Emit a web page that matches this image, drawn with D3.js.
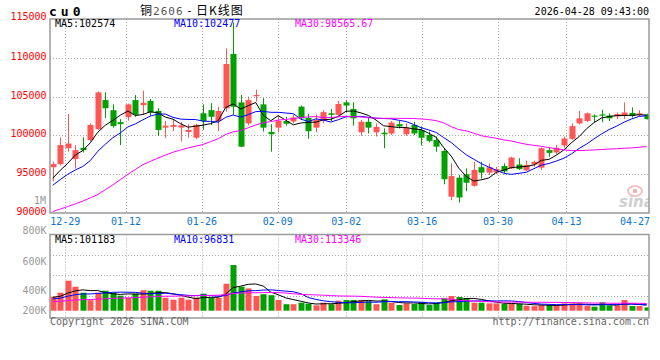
<!DOCTYPE html>
<html><head><meta charset="utf-8">
<script src="https://cdn.jsdelivr.net/npm/d3@7"></script>
<style>
html,body{margin:0;padding:0;background:#fff;}
svg{display:block;}
</style></head><body>
<svg id="chart" width="660" height="360"></svg>
<script>
// ---------- data ----------
const dates = ["12-25","12-26","12-29","12-30","12-31","01-05","01-06","01-07","01-08","01-09",
 "01-12","01-13","01-14","01-15","01-16","01-19","01-20","01-21","01-22","01-23",
 "01-26","01-27","01-28","01-29","01-30","02-02","02-03","02-04","02-05","02-06",
 "02-09","02-10","02-11","02-12","02-13","02-24","02-25","02-26","02-27","03-02",
 "03-03","03-04","03-05","03-06","03-09","03-10","03-11","03-12","03-13","03-16",
 "03-17","03-18","03-19","03-20","03-23","03-24","03-25","03-26","03-27","03-30",
 "03-31","04-01","04-02","04-03","04-07","04-08","04-09","04-10","04-13","04-14",
 "04-15","04-16","04-17","04-20","04-21","04-22","04-23","04-24","04-27","04-28"];
const open = [95900,96300,98350,96950,98400,99400,100800,104550,103250,101700,
 102350,104550,103900,104450,103150,101000,101100,101000,100450,99700,
 102850,103250,101850,103500,110500,104250,101550,105050,104000,100450,
 101000,101850,101800,103700,102250,101000,101850,102850,102650,104250,
 103400,100400,101750,100400,100350,100250,101450,100150,101350,100700,
 100050,99400,98000,92100,94550,95000,93500,95900,95200,95250,
 96050,95750,96250,95500,96250,95850,98100,97800,98700,99550,
 101550,101850,102550,102700,102550,102450,102500,102900,102650,102650];
const high = [96600,99750,102750,98750,99750,101550,105650,105550,104000,102100,
 104100,105200,105750,104700,103500,101850,102000,101750,101450,101500,
 104000,104150,103700,111200,114550,105200,105000,105900,104800,101450,
 102650,102400,102700,103850,102800,102700,103250,103400,104450,104550,
 104250,102000,102400,101550,100900,101850,101850,101550,101750,101150,
 100500,99850,98400,96400,94900,95750,96600,96600,96400,95950,
 96400,97250,97050,96750,96750,98450,98450,98750,99850,101550,
 103150,102950,102700,103300,102850,102950,104250,103600,103250,102800];
const low = [94100,96100,97900,95750,97800,99250,100700,102250,101000,98750,
 101900,102400,102650,102500,99950,99650,100550,99200,99700,99550,
 100700,101350,100550,103050,102650,98500,101300,104350,100500,97900,
 100400,101250,101550,102000,99550,100400,101550,101850,102500,103000,
 101250,99950,100250,99850,98350,100050,100900,99950,100050,98700,
 99100,97900,93700,91650,91350,92800,93400,94450,94900,95000,
 95000,95650,95550,95400,95950,95550,97250,97550,98400,99400,
 101400,101750,101700,101700,101850,102100,102100,102300,102500,102050];
const close = [96300,98750,98950,98100,98100,101350,105550,103500,101200,101450,
 104000,102650,104200,102950,100700,101250,101350,101300,100700,101350,
 101850,102400,103150,109200,103700,98550,104550,105200,101000,100150,
 101850,101500,102300,102200,100550,102000,103000,102650,104050,103850,
 102200,101750,101000,101100,100150,101650,101150,101000,100250,99700,
 99300,98550,94350,94750,92000,93900,95550,95200,95900,95650,
 95350,97150,95650,96200,96600,98350,97750,98400,99600,101200,
 102200,102850,102400,102550,102200,102750,102950,102500,102850,102100];
const volume = [224000,288000,480000,384000,288000,168000,288000,320000,288000,240000,
 208000,272000,328000,320000,320000,208000,176000,208000,176000,208000,
 272000,208000,208000,432000,731000,384000,357000,235000,264000,248000,
 171000,104000,104000,128000,112000,85000,128000,104000,160000,171000,
 171000,171000,152000,104000,181000,128000,91000,117000,107000,136000,
 91000,128000,200000,235000,219000,197000,128000,128000,117000,117000,
 107000,107000,107000,80000,72000,91000,91000,85000,117000,117000,
 117000,80000,64000,133000,85000,85000,171000,75000,75000,53000];
// closes / volumes of the 29 sessions before the first visible one (estimated from the MA lines)
const priorCloses = [89000,89200,87600,87600,88600,92800,84750,82450,81200,83750,
 83900,85450,90200,87950,90000,90100,93050,92450,94600,95100,
 91400,92100,92600,93500,93750,93600,94450,92750,95250];
const priorVolumes = [110000,105000,118000,125000,112000,98000,120000,130000,115000,108000,
 122000,135000,128000,118000,125000,140000,132000,128000,138000,145000,
 150000,165000,148000,172000,165000,205000,230000,198000,213000];
const priceTicks = [90000,95000,100000,105000,110000,115000];
const volTicks = [200000,400000,600000,800000];
const volTickLabels = ["200K","400K","600K","800K"];
const dateTickIdx = [2,10,20,30,39,49,59,68,78];
const maPeriods = [5,10,30];
const maColors = ["#000000","#0000ff","#ff00ff"];
const priceMaLabels = ["MA5:102574","MA10:102477","MA30:98565.67"];
const volMaLabels = ["MA5:101183","MA10:96831","MA30:113346"];
const symbol = "cu0";
const titleText = "铜2606 - 日K线图";
const timeText = "2026-04-28 09:43:00";

// ---------- layout ----------
const svg = d3.select("#chart");
const L = 50, R = 649, T = 19, B = 213;
const VT = 234.5, VB = 318, VBASE = 310.7;
const mono = "'DejaVu Sans Mono', monospace";
const RED = "#ff5555", GREEN = "#00a000";
const n = dates.length;

const x = d3.scaleBand().domain(d3.range(n)).range([49.7, 649.7]).paddingInner(0.2).paddingOuter(0);
const cx = i => x(i) + x.bandwidth() / 2;
const xg = d3.scaleLinear().domain([0, n - 1]).range([L, 650]);
const y = d3.scaleLinear().domain([90000, 115000]).range([B, T]);
const yv = d3.scaleLinear().domain([0, 1222400]).range([VBASE, 234.3]);
const volLabelY = d3.scaleLinear().domain(volTicks).range([314, 294, 265, 234.3]);

const defs = svg.append("defs");
defs.append("clipPath").attr("id", "cpMain").append("rect").attr("x", L).attr("y", T).attr("width", R - L).attr("height", B - T);
defs.append("clipPath").attr("id", "cpVol").append("rect").attr("x", L).attr("y", VT).attr("width", R - L).attr("height", VB - VT);

// ---------- grid ----------
const grid = svg.append("g").attr("stroke", "#aaa").attr("stroke-dasharray", "1,2").attr("stroke-width", 1);
priceTicks.filter(v => v > 90000 && v < 115000).forEach(v => {
  grid.append("line").attr("x1", L).attr("x2", R).attr("y1", Math.round(y(v)) + 0.5).attr("y2", Math.round(y(v)) + 0.5);
});
d3.range(1, 4).forEach(k => {
  const yy = Math.round(VT + k * 20.4) + 0.5;
  grid.append("line").attr("x1", L).attr("x2", R).attr("y1", yy).attr("y2", yy);
});
dateTickIdx.slice(0, -1).forEach(i => {
  const xx = Math.round(xg(i)) + 0.5;
  grid.append("line").attr("x1", xx).attr("x2", xx).attr("y1", T).attr("y2", B);
  grid.append("line").attr("x1", xx).attr("x2", xx).attr("y1", VT).attr("y2", VB);
});

// ---------- sina watermark ----------
const wm = svg.append("g").attr("clip-path", "url(#cpMain)");
wm.append("ellipse").attr("cx", 635).attr("cy", 191).attr("rx", 7).attr("ry", 5).attr("fill", "none").attr("stroke", "#f2c0c0").attr("stroke-width", 2);
wm.append("circle").attr("cx", 635).attr("cy", 191).attr("r", 2.2).attr("fill", "#eeb0b0");
wm.append("text").attr("x", 619).attr("y", 207).text("sina")
  .attr("font-family", "'DejaVu Sans', sans-serif").attr("font-style", "italic").attr("font-weight", "bold")
  .attr("font-size", 15).attr("fill", "#cfcfcf");

// ---------- candles ----------
const cg = svg.append("g").attr("clip-path", "url(#cpMain)");
const idx = d3.range(n);
const col = i => close[i] >= open[i] ? RED : GREEN;
cg.selectAll("line.wick").data(idx).join("line")
  .attr("x1", i => Math.round(cx(i)) + 0.5).attr("x2", i => Math.round(cx(i)) + 0.5)
  .attr("y1", i => y(high[i])).attr("y2", i => y(low[i]))
  .attr("stroke", col).attr("stroke-width", 1);
cg.selectAll("rect.body").data(idx).join("rect")
  .attr("x", i => Math.round(cx(i)) + 0.5 - x.bandwidth() / 2)
  .attr("width", x.bandwidth())
  .attr("y", i => y(Math.max(open[i], close[i])))
  .attr("height", i => Math.max(1, Math.abs(y(open[i]) - y(close[i]))))
  .attr("fill", col);

// ---------- moving averages ----------
function movingAvg(arr, prior, p) {
  const all = prior.concat(arr);
  const off = prior.length;
  return arr.map((_, i) => d3.mean(all.slice(i + off + 1 - p, i + off + 1)));
}
maPeriods.forEach((p, k) => {
  const ma = movingAvg(close, priorCloses, p);
  cg.append("path").datum(ma)
    .attr("d", d3.line().x((d, i) => cx(i)).y(d => y(d)))
    .attr("fill", "none").attr("stroke", maColors[k]).attr("stroke-width", 1);
});

// ---------- volume ----------
const vg = svg.append("g").attr("clip-path", "url(#cpVol)");
vg.selectAll("rect.vol").data(idx).join("rect")
  .attr("x", i => Math.round(cx(i)) + 0.5 - x.bandwidth() / 2)
  .attr("width", x.bandwidth())
  .attr("y", i => yv(volume[i]))
  .attr("height", i => yv(0) - yv(volume[i]))
  .attr("fill", col);
maPeriods.forEach((p, k) => {
  const ma = movingAvg(volume, priorVolumes, p);
  vg.append("path").datum(ma)
    .attr("d", d3.line().x((d, i) => cx(i)).y(d => yv(d)))
    .attr("fill", "none").attr("stroke", maColors[k]).attr("stroke-width", 1);
});

// ---------- borders ----------
svg.append("rect").attr("x", L).attr("y", T).attr("width", R - L).attr("height", B - T)
  .attr("fill", "none").attr("stroke", "#9a9a9a").attr("stroke-width", 1.5);
svg.append("rect").attr("x", L).attr("y", VT).attr("width", R - L).attr("height", VB - VT)
  .attr("fill", "none").attr("stroke", "#9a9a9a").attr("stroke-width", 1.5);

// ---------- texts ----------
const txt = (xx, yy, s, fill, anchor) => svg.append("text").attr("x", xx).attr("y", yy).text(s)
  .attr("font-family", mono).attr("font-size", 10).attr("fill", fill).attr("text-anchor", anchor || "start");

// title row
svg.append("text").attr("x", 49).attr("y", 16).text(symbol)
  .attr("font-family", mono).attr("font-weight", "bold").attr("font-size", 13)
  .attr("letter-spacing", 4).attr("fill", "#000");
const tt = svg.append("text").attr("x", 140).attr("y", 14.5)
  .attr("font-family", "'Noto Sans CJK SC', sans-serif").attr("font-size", 12).attr("fill", "#000")
  .attr("letter-spacing", 1);
tt.append("tspan").text(titleText.slice(0, 1));
tt.append("tspan").text(titleText.slice(1, 5)).attr("fill", "#555").attr("font-family", mono).attr("font-size", 11);
tt.append("tspan").text(titleText.slice(5));
txt(649, 15, timeText, "#000", "end");

// price MA legend
[55, 174, 295].forEach((xx, k) => txt(xx, 27, priceMaLabels[k], maColors[k]));
// volume MA legend
[55, 174, 295].forEach((xx, k) => txt(xx, 242.7, volMaLabels[k], maColors[k]));

// price axis labels
priceTicks.forEach(v => {
  txt(46.5, y(v) + (v === 115000 ? 0.5 : 2), d3.format("d")(v), "#ff0000", "end");
});
txt(46, 204, "1M", "#999", "end");

// volume axis labels
volTicks.forEach((v, k) => txt(46.5, volLabelY(v), volTickLabels[k], "#999", "end"));

// date labels
dateTickIdx.forEach(i => {
  const xx = xg(i);
  if (xx + 15 > 650) txt(650, 225, dates[i], "#0b75d0", "end");
  else txt(xx, 225, dates[i], "#0b75d0", "middle");
});

// footer
txt(50, 325, "Copyright 2026 SINA.COM", "#666");
txt(649, 325, "http://finance.sina.com.cn", "#666", "end");
</script>
</body></html>
